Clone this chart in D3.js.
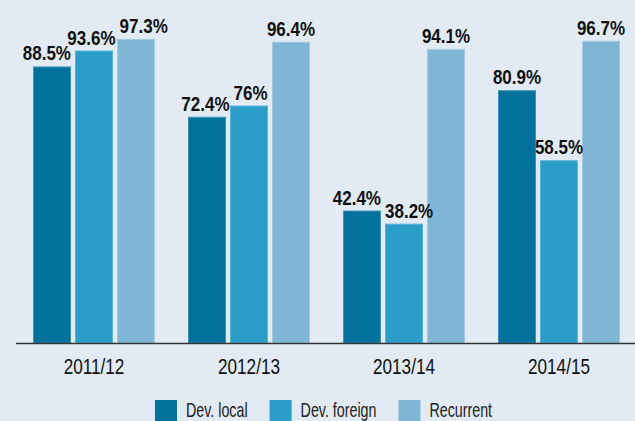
<!DOCTYPE html>
<html>
<head>
<meta charset="utf-8">
<script src="https://cdn.jsdelivr.net/npm/d3@7"></script>
<style>
  html, body { margin: 0; padding: 0; background: #e2eaf4; }
  svg { display: block; }
  text { font-family: "Liberation Sans", Arial, sans-serif; }
</style>
</head>
<body>
<svg id="chart" width="635" height="421"></svg>
<script>
const years = ['2011/12', '2012/13', '2013/14', '2014/15'];
const seriesNames = ['Dev. local', 'Dev. foreign', 'Recurrent'];
const devLocal = [88.5, 72.4, 42.4, 80.9];
const devForeign = [93.6, 76, 38.2, 58.5];
const recurrent = [97.3, 96.4, 94.1, 96.7];
const colors = ['#00729b', '#2a9dc9', '#7fb6d6'];
const strokes = ['#3f93b6', '#5ab4d8', '#a2cbe2'];

const W = 635, H = 421;
// narrow the Liberation faces to look like a condensed font
const sqLabel = 0.85, sqAxis = 0.78, sqLegend = 0.68;

const svg = d3.select('#chart');
svg.append('rect').attr('width', W).attr('height', H).attr('fill', '#e2eaf4');

const rows = years.map((y, i) => ({year: y, vals: [devLocal[i], devForeign[i], recurrent[i]]}));

const x0 = d3.scaleBand().domain(years).range([16.5, 636.5]).paddingInner(33/155).paddingOuter(33/310);
const x1 = d3.scaleBand().domain(d3.range(3)).range([0, x0.bandwidth()]).paddingInner(4/42).paddingOuter(0);
const y = d3.scaleLinear().domain([0, 100]).range([343, 30.5]);

const groups = svg.append('g').selectAll('g').data(rows).enter().append('g')
  .attr('transform', d => `translate(${x0(d.year)},0)`);

groups.selectAll('rect').data(d => d.vals).enter().append('rect')
  .attr('x', (d, i) => x1(i) + 0.5)
  .attr('width', x1.bandwidth() - 1)
  .attr('y', d => y(d) + 0.5)
  .attr('height', d => y(0) - y(d) - 0.5)
  .attr('fill', (d, i) => colors[i])
  .attr('stroke', (d, i) => strokes[i])
  .attr('stroke-width', 1);

// value labels, pushed sideways when neighbours collide
groups.each(function(row) {
  const g = d3.select(this);
  const labs = row.vals.map((v, i) => {
    const t = g.append('text')
      .attr('text-anchor', 'middle')
      .attr('font-size', 20)
      .attr('font-weight', 'bold')
      .attr('fill', '#111')
      .text(v + '%');
    return {t, v, cx: x1(i) + x1.bandwidth()/2, by: y(v) - 6, w: t.node().getComputedTextLength() * sqLabel};
  });
  for (let i = 0; i < labs.length - 1; i++) {
    const a = labs[i], b = labs[i + 1];
    if (Math.abs(a.by - b.by) < 16) {
      const need = a.w/2 + b.w/2 + 4 - (b.cx - a.cx);
      if (need > 0) { a.cx -= need/2; b.cx += need/2; }
    }
  }
  labs.forEach(l => l.t.attr('transform', `translate(${l.cx},${l.by}) scale(${sqLabel},1)`));
});

const axis = svg.append('g').attr('transform', `translate(0,${y(0)})`)
  .call(d3.axisBottom(x0).tickSize(0).tickPadding(15));
axis.select('.domain').attr('d', 'M16,0.5H635').attr('stroke', '#333').attr('stroke-width', 1.5);
axis.selectAll('text').attr('font-size', 22).attr('fill', '#111')
  .attr('font-family', '"Liberation Sans", Arial, sans-serif')
  .attr('transform', `scale(${sqAxis},1)`);

const legend = svg.append('g').attr('transform', 'translate(155,400)');
let lx = 0;
seriesNames.forEach((name, i) => {
  const item = legend.append('g').attr('transform', `translate(${lx},0)`);
  item.append('rect').attr('width', 22).attr('height', 21).attr('fill', colors[i]);
  const t = item.append('text')
    .attr('font-size', 21).attr('fill', '#222')
    .attr('transform', `translate(31,16.5) scale(${sqLegend},1)`)
    .text(name);
  lx += 31 + t.node().getComputedTextLength() * sqLegend + 22;
});
</script>
</body>
</html>
